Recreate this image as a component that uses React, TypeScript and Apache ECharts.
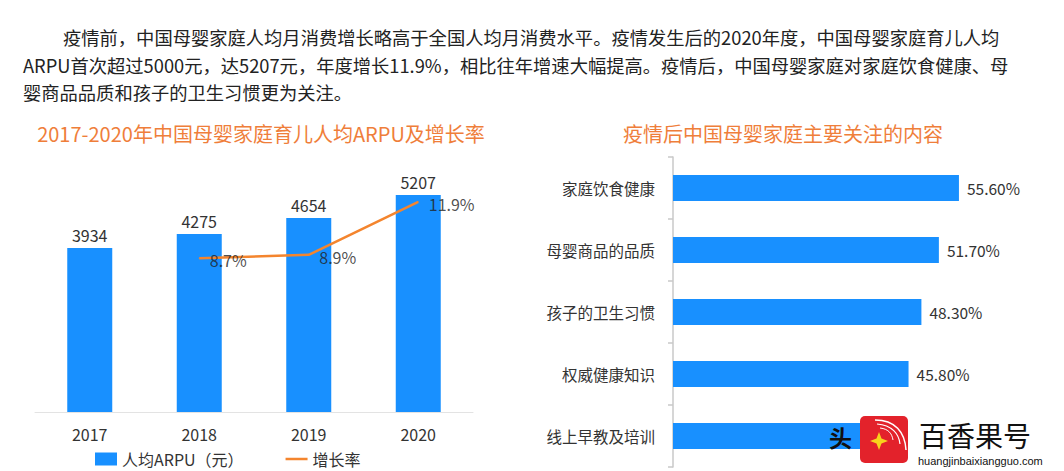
import React, { useEffect, useRef } from 'react';
import * as echarts from 'echarts';

const paragraphLines = [
  '疫情前，中国母婴家庭人均月消费增长略高于全国人均月消费水平。疫情发生后的2020年度，中国母婴家庭育儿人均',
  'ARPU首次超过5000元，达5207元，年度增长11.9%，相比往年增速大幅提高。疫情后，中国母婴家庭对家庭饮食健康、母',
  '婴商品品质和孩子的卫生习惯更为关注。',
];
const leftTitle = '2017-2020年中国母婴家庭育儿人均ARPU及增长率';
const rightTitle = '疫情后中国母婴家庭主要关注的内容';

const years = ['2017', '2018', '2019', '2020'];
const arpu = [3934, 4275, 4654, 5207];
const growth: (number | string)[] = ['-', 8.7, 8.9, 11.9];
const arpuName = '人均ARPU（元）';
const growthName = '增长率';

const concerns = ['家庭饮食健康', '母婴商品的品质', '孩子的卫生习惯', '权威健康知识', '线上早教及培训'];
const concernShare = [55.6, 51.7, 48.3, 45.8, 42.0];
const hiddenLabelIndex = 4; // covered by watermark in the reference

const BLUE = '#1890FF';
const ORANGE = '#F4852E';
const TITLE_ORANGE = '#EF7E3A';
const TEXT = '#333333';
const FONT = '"Noto Sans CJK SC", "Noto Sans", sans-serif';

export default function App() {
  const ref = useRef<HTMLDivElement>(null);
  useEffect(() => {
    if (!ref.current) return;
    const chart = echarts.init(ref.current, undefined, { renderer: 'svg' });
    const WZ = 100;
    const option: any = {
      animation: false,
      backgroundColor: '#ffffff',
      textStyle: { fontFamily: FONT },
      grid: [
        { left: 35, top: 162, width: 438, height: 250 },
        { left: 673, top: 157, width: 360, height: 310 },
      ],
      xAxis: [
        {
          type: 'category',
          gridIndex: 0,
          data: years,
          axisLine: { lineStyle: { color: '#e3e3e3', width: 1 } },
          axisTick: { show: false },
          axisLabel: { color: TEXT, fontSize: 16, margin: 14, fontFamily: FONT },
        },
        {
          type: 'value',
          gridIndex: 1,
          min: 0,
          max: 70,
          show: false,
        },
      ],
      yAxis: [
        { type: 'value', gridIndex: 0, min: 0, max: 6000, show: false },
        { type: 'value', gridIndex: 0, min: 0, max: 14.15, show: false },
        {
          type: 'category',
          gridIndex: 1,
          inverse: true,
          data: concerns,
          axisLine: { lineStyle: { color: '#c8c8c8', width: 1.5 } },
          axisTick: { show: true, length: 5, lineStyle: { color: '#c8c8c8', width: 1.5 } },
          axisLabel: { color: TEXT, fontSize: 15.5, margin: 18, fontFamily: FONT },
        },
      ],
      legend: {
        left: 90,
        top: 446,
        itemWidth: 22,
        itemHeight: 13,
        itemGap: 42,
        textStyle: { color: TEXT, fontSize: 16, fontFamily: FONT },
        data: [
          { name: arpuName, icon: 'rect' },
          { name: growthName, icon: 'path://M0,0h22v2.5h-22z' },
        ],
      },
      series: [
        {
          name: arpuName,
          type: 'bar',
          xAxisIndex: 0,
          yAxisIndex: 0,
          data: arpu,
          barWidth: 45,
          itemStyle: { color: BLUE },
          label: { show: true, position: 'top', distance: 5, color: TEXT, fontSize: 16, fontFamily: FONT },
        },
        {
          name: growthName,
          type: 'line',
          xAxisIndex: 0,
          yAxisIndex: 1,
          data: growth,
          symbol: 'none',
          lineStyle: { color: ORANGE, width: 2.5 },
          itemStyle: { color: ORANGE },
          z: 5,
        },
        {
          name: 'growthLabels',
          type: 'scatter',
          xAxisIndex: 0,
          yAxisIndex: 1,
          data: growth,
          symbolSize: 1,
          itemStyle: { color: ORANGE },
          label: {
            show: true,
            position: 'right',
            distance: 10,
            offset: [0, 2],
            color: '#222222',
            fontSize: 16,
            fontFamily: FONT,
            formatter: (p: any) => `${p.value}%`,
          },
          z: 6,
        },
        {
          name: 'concerns',
          type: 'bar',
          xAxisIndex: 1,
          yAxisIndex: 2,
          barWidth: 26,
          itemStyle: { color: BLUE },
          data: concernShare.map((v, i) =>
            i === hiddenLabelIndex ? { value: v, label: { show: false } } : v
          ),
          label: {
            show: true,
            position: 'right',
            distance: 8,
            color: TEXT,
            fontSize: 15.5,
            fontFamily: FONT,
            formatter: (p: any) => `${Number(p.value).toFixed(2)}%`,
          },
        },
      ],
      graphic: [
        ...paragraphLines.map((t, i) => ({
          type: 'text',
          x: i === 0 ? 63 : 23,
          y: [37, 65, 92][i],
          style: {
            text: t,
            fill: '#222222',
            font: `18.3px ${FONT}`,
            align: 'left',
            verticalAlign: 'middle',
          },
        })),
        {
          type: 'text',
          x: 261,
          y: 133,
          style: { text: leftTitle, fill: TITLE_ORANGE, font: `20px ${FONT}`, align: 'center', verticalAlign: 'middle' },
        },
        {
          type: 'text',
          x: 783,
          y: 133,
          style: { text: rightTitle, fill: TITLE_ORANGE, font: `20px ${FONT}`, align: 'center', verticalAlign: 'middle' },
        },
        {
          type: 'text',
          z: WZ,
          x: 829,
          y: 437,
          style: { text: '头', fill: '#111111', font: `bold 23px ${FONT}`, align: 'left', verticalAlign: 'middle' },
        },
        {
          type: 'rect',
          z: WZ,
          shape: { x: 860, y: 416, width: 48, height: 47, r: 5 },
          style: { fill: '#E3222B' },
        },
        {
          type: 'bezierCurve',
          z: WZ + 1,
          shape: { x1: 875, y1: 420, x2: 906, y2: 450, cpx1: 895, cpy1: 420, cpx2: 905, cpy2: 432 },
          style: { stroke: '#ffffff', lineWidth: 1.5, fill: 'none' },
        },
        {
          type: 'bezierCurve',
          z: WZ + 1,
          shape: { x1: 877, y1: 424, x2: 900, y2: 444, cpx1: 892, cpy1: 425, cpx2: 899, cpy2: 434 },
          style: { stroke: '#ffffff', lineWidth: 1.2, fill: 'none' },
        },
        {
          type: 'bezierCurve',
          z: WZ + 1,
          shape: { x1: 880, y1: 428, x2: 893, y2: 440, cpx1: 889, cpy1: 429, cpx2: 892, cpy2: 434 },
          style: { stroke: '#ffffff', lineWidth: 1, fill: 'none' },
        },
        {
          type: 'polygon',
          z: WZ + 1,
          shape: {
            points: [
              [879, 432], [881.5, 438.5], [888, 441], [881.5, 443.5],
              [879, 450], [876.5, 443.5], [870, 441], [876.5, 438.5],
            ],
          },
          style: { fill: '#F8D21C' },
        },
        {
          type: 'text',
          z: WZ,
          x: 919,
          y: 435,
          style: { text: '百香果号', fill: '#111111', font: `28px ${FONT}`, align: 'left', verticalAlign: 'middle' },
        },
        {
          type: 'text',
          z: WZ,
          x: 918,
          y: 461,
          style: { text: 'huangjinbaixiangguo.com', fill: '#111111', font: `11px "Liberation Sans", Arial, sans-serif`, align: 'left', verticalAlign: 'middle' },
        },
      ],
    };
    chart.setOption(option);
    return () => chart.dispose();
  }, []);
  return (
    <div
      ref={ref}
      style={{ position: 'absolute', left: 0, top: 0, width: 1064, height: 471 }}
    />
  );
}
